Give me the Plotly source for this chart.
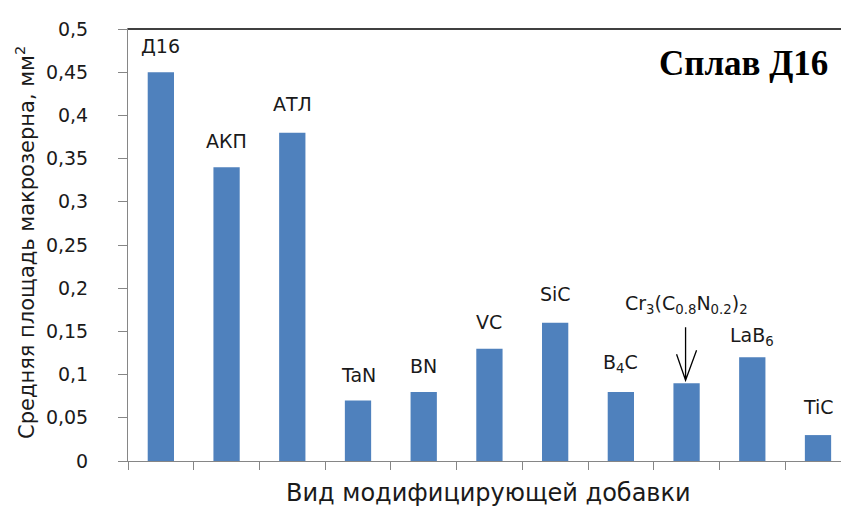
import plotly.graph_objects as go

categories = ["Д16", "АКП", "АТЛ", "TaN", "BN", "VC", "SiC", "B4C", "Cr3(C0.8N0.2)2", "LaB6", "TiC"]
labels = ["Д16", "АКП", "АТЛ", "TaN", "BN", "VC", "SiC", "B<sub>4</sub>C",
          "Cr<sub>3</sub>(C<sub>0.8</sub>N<sub>0.2</sub>)<sub>2</sub>", "LaB<sub>6</sub>", "TiC"]
values = [0.45, 0.34, 0.38, 0.07, 0.08, 0.13, 0.16, 0.08, 0.09, 0.12, 0.03]
label_gap = [13, 13, 16, 13, 13, 14, 16, 14, 64, 6, 15]
arrow_index = 8
y_ticks = [0, 0.05, 0.1, 0.15, 0.2, 0.25, 0.3, 0.35, 0.4, 0.45, 0.5]

FONT = "DejaVu Sans"
TXT = "#1a1a1a"

fig = go.Figure(go.Bar(
    x=categories, y=values,
    marker=dict(color="#4F81BD", line=dict(width=0)),
    width=0.4,
))

for i, (cat, lab, val, gap) in enumerate(zip(categories, labels, values, label_gap)):
    fig.add_annotation(
        x=cat, y=val, xref="x", yref="y", text=lab, showarrow=False,
        yanchor="bottom", yshift=gap,
        font=dict(family=FONT, size=19, color=TXT),
    )

# top frame line
fig.add_shape(type="path", xref="paper", yref="paper", path="M0,1 L1,1",
              layer="above", line=dict(color="#404040", width=2.2))

# pointer arrow (open V head) onto the Cr3(C0.8N0.2)2 bar
fig.add_shape(
    type="path", xref="x", yref="y",
    xsizemode="pixel", ysizemode="pixel",
    xanchor=arrow_index, yanchor=values[arrow_index],
    path="M-10,29 L-1,3 L10,33 M-1,3 L-1,56",
    line=dict(color="#000000", width=1.3),
)

# chart caption
fig.add_annotation(
    x=(830 - 128) / 713, y=(461 - 63) / 432, xref="paper", yref="paper",
    text="<b>Сплав Д16</b>", showarrow=False, xanchor="right", yanchor="middle",
    font=dict(family="Liberation Serif", size=35, color="#000000"),
)
# axis titles
fig.add_annotation(
    x=(488 - 128) / 713, y=0, yshift=-32, xref="paper", yref="paper",
    text="Вид модифицирующей добавки", showarrow=False,
    xanchor="center", yanchor="middle",
    font=dict(family=FONT, size=24, color=TXT),
)
fig.add_annotation(
    x=0, xshift=-103, y=(461 - 243) / 432, xref="paper", yref="paper",
    text="Средняя площадь макрозерна, мм<sup>2</sup>", showarrow=False,
    textangle=-90, xanchor="center", yanchor="middle",
    font=dict(family=FONT, size=21, color=TXT),
)

fig.update_layout(
    width=841, height=506,
    margin=dict(l=128, r=0, t=29, b=45),
    paper_bgcolor="white", plot_bgcolor="white",
    separators=", ",
    showlegend=False,
    bargap=0.6,
    xaxis=dict(
        type="category", range=[-0.5, 10.35],
        showticklabels=False, ticks="outside", tickson="boundaries",
        ticklen=8, tickcolor="#868686", showline=True, linecolor="#868686",
        linewidth=1, showgrid=False, zeroline=False, mirror=True,
    ),
    yaxis=dict(
        range=[0, 0.5], tickvals=y_ticks,
        ticks="outside", ticklen=9, tickcolor="#868686",
        showline=True, linecolor="#868686", linewidth=1,
        showgrid=False, zeroline=False, ticklabelstandoff=26,
        tickfont=dict(family=FONT, size=19, color=TXT),
    ),
)

fig.write_html("out.html", config={"displayModeBar": False},
               post_script="document.body.style.margin='0';document.documentElement.style.overflow='hidden';")
